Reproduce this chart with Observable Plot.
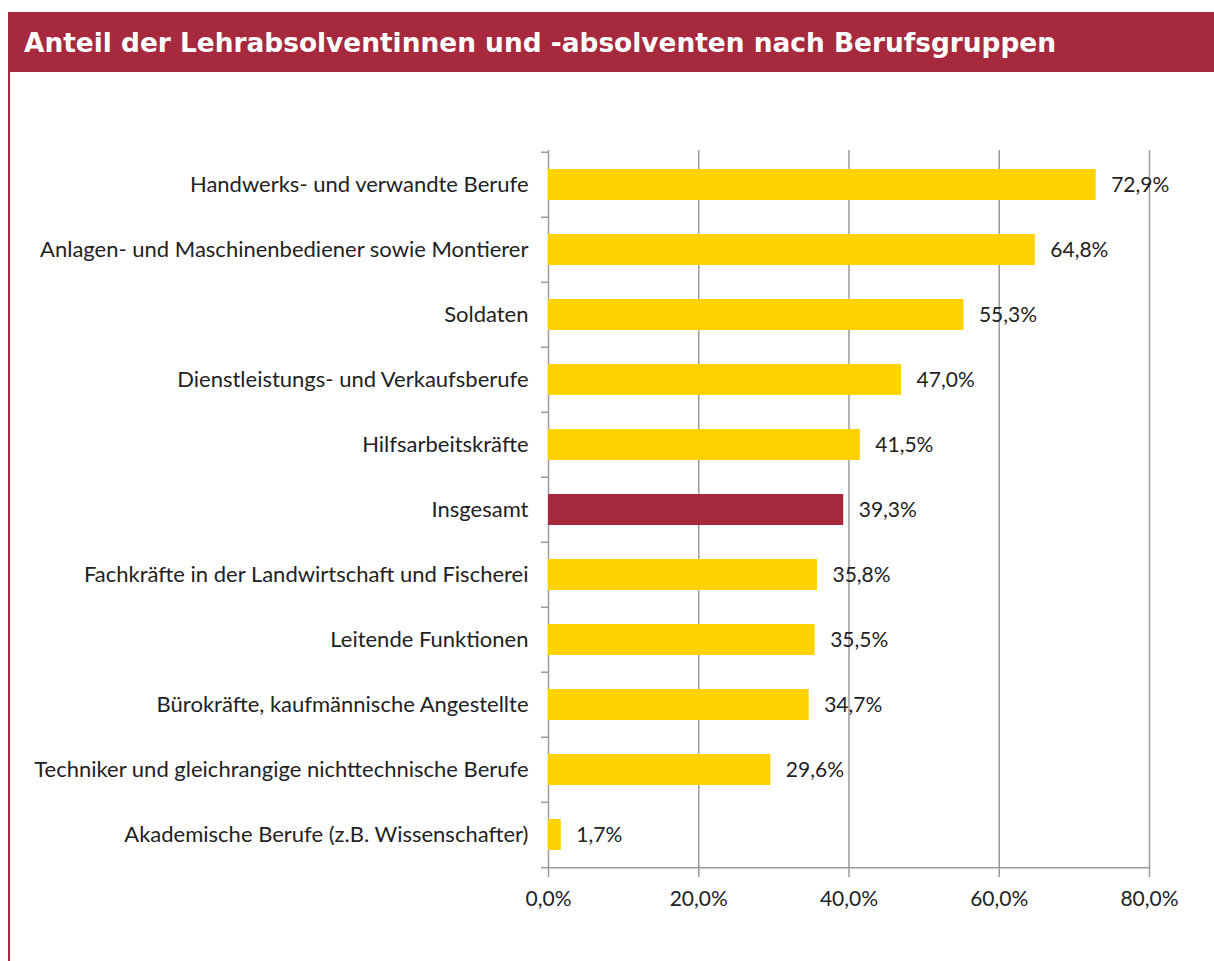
<!DOCTYPE html>
<html><head><meta charset="utf-8">
<script src="https://cdn.jsdelivr.net/npm/d3@7"></script>
<script src="https://cdn.jsdelivr.net/npm/@observablehq/plot@0.6"></script>
<style>
body{margin:0;background:#fff;width:1214px;height:961px;overflow:hidden;position:relative;}
#title{position:absolute;left:8px;top:12px;width:1206px;height:60px;background:#a6293d;color:#fff;font:bold 26.4px "DejaVu Sans";display:flex;align-items:center;padding-left:16px;box-sizing:border-box;white-space:nowrap;}
#border{position:absolute;left:8px;top:72px;width:2px;height:889px;background:#a6293d;}
#chart{position:absolute;left:0;top:72px;}
</style></head><body>
<div id="title">Anteil der Lehrabsolventinnen und -absolventen nach Berufsgruppen</div>
<div id="border"></div>
<div id="chart"></div>
<script>
const categories = [
  "Handwerks- und verwandte Berufe",
  "Anlagen- und Maschinenbediener sowie Montierer",
  "Soldaten",
  "Dienstleistungs- und Verkaufsberufe",
  "Hilfsarbeitskräfte",
  "Insgesamt",
  "Fachkräfte in der Landwirtschaft und Fischerei",
  "Leitende Funktionen",
  "Bürokräfte, kaufmännische Angestellte",
  "Techniker und gleichrangige nichttechnische Berufe",
  "Akademische Berufe (z.B. Wissenschafter)"
];
const values = [72.9, 64.8, 55.3, 47.0, 41.5, 39.3, 35.8, 35.5, 34.7, 29.6, 1.7];
const highlight = "Insgesamt";
const xTicks = [0, 20, 40, 60, 80];

const data = categories.map((c, i) => ({category: c, value: values[i]}));
const W = 1214, H = 889, mt = 78, mb = 91, ml = 548, mr = 65;
const step = (H - mt - mb) / categories.length;
const unit = (W - ml - mr) / 80;
const fmt = v => v.toFixed(1).replace(".", ",") + "%";
const grey = "#9a9a9a";

const plot = Plot.plot({
  width: W, height: H, marginTop: mt, marginBottom: mb, marginLeft: ml, marginRight: mr,
  style: {fontFamily: "Lato", fontSize: "21px", color: "#222", background: "transparent"},
  x: {domain: [0, 80], ticks: xTicks, tickFormat: fmt},
  y: {domain: categories, paddingInner: 0.52, paddingOuter: 0.26},
  color: {type: "identity"},
  marks: [
    Plot.gridX(xTicks.slice(1), {stroke: grey, strokeOpacity: 1, strokeWidth: 1.5}),
    Plot.axisX({ticks: xTicks, tickFormat: fmt, tickSize: 7, tickPadding: 14, stroke: grey, strokeWidth: 1.5, label: null, fontSize: 21}),
    Plot.axisY({tickSize: 0, tickPadding: 20, label: null, fontSize: 22}),
    Plot.ruleX([0], {stroke: grey, strokeWidth: 1.5}),
    Plot.ruleY(categories, {y: d => d, x1: -7 / unit, x2: 0, dy: -step / 2, stroke: grey, strokeWidth: 1.5}),
    Plot.ruleY([categories[categories.length - 1]], {y: d => d, x1: -7 / unit, x2: 80, dy: step / 2, stroke: grey, strokeWidth: 1.5}),
    Plot.barX(data, {x: "value", y: "category", fill: d => d.category === highlight ? "#a6293d" : "#ffd200"}),
    Plot.text(data, {x: "value", y: "category", text: d => fmt(d.value), textAnchor: "start", dx: 15, fill: "#222", fontSize: 21})
  ]
});
document.getElementById("chart").appendChild(plot);
</script>
</body></html>
